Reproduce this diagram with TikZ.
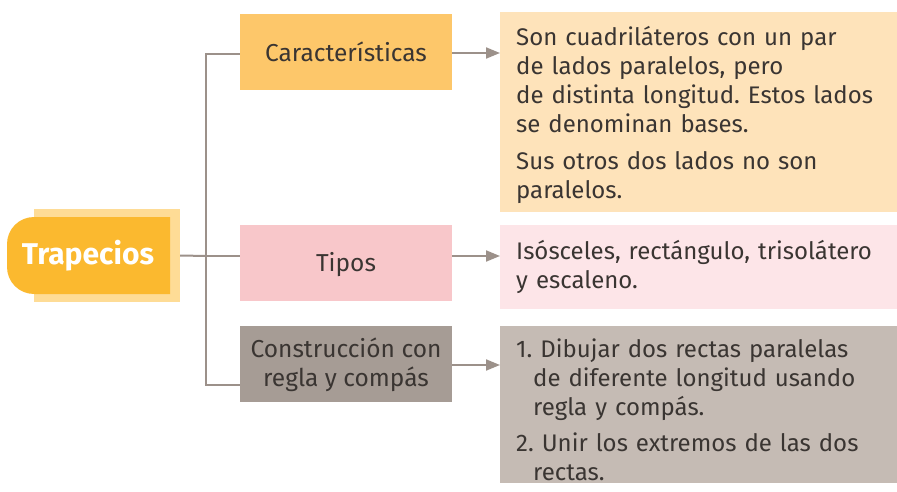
\documentclass[tikz,border=0pt]{standalone}
\usepackage{fontspec}
\setmainfont{Fira Sans}
\frenchspacing
\usetikzlibrary{calc,arrows.meta}

\definecolor{trapfront}{HTML}{FBB92F}
\definecolor{trapback}{HTML}{FEDC96}
\definecolor{carfill}{HTML}{FDC76A}
\definecolor{cardesc}{HTML}{FEE3BA}
\definecolor{tipfill}{HTML}{F8C7CA}
\definecolor{tipdesc}{HTML}{FDE5E8}
\definecolor{consfill}{HTML}{A69C95}
\definecolor{consdesc}{HTML}{C5BBB4}
\definecolor{linkgray}{HTML}{9C918A}
\definecolor{textgray}{HTML}{3A3532}

\tikzset{
	link/.style={draw=linkgray,line width=2pt},
	arrow/.style={link,-{Triangle[length=14pt,width=11pt]}},
	tema/.style={rectangle,minimum width=212pt,minimum height=76pt,inner sep=0pt,align=center,text=textgray,font=\fontsize{24.5}{29}\selectfont},
	texto/.style={rectangle,anchor=north west,text width=365pt,inner xsep=16pt,inner ysep=0pt,align=left,text=textgray,font=\fontsize{24}{29}\selectfont}
}

\begin{document}
\begin{tikzpicture}[x=1pt,y=-1pt]
	\useasboundingbox (0,0) rectangle (897,492);
	% tema central
	\node[rectangle,fill=trapback,minimum width=146pt,minimum height=93pt,inner sep=0pt] (trapback) at (107,255.5) {};
	\fill[trapfront] (170,217) [rounded corners=27pt] -- (7,217) -- (7,294) [sharp corners] -- (170,294) -- cycle;
	\node[text=white,font=\fontsize{30}{30}\selectfont\bfseries] (trap) at (88,256) {Trapecios};
	% temas
	\node[tema,fill=carfill] (car) at (346,52) {Características};
	\node[tema,fill=tipfill] (tip) at (346,263) {\rule{0pt}{22pt}Tipos};
	\node[tema,fill=consfill] (cons) at (346,364) {\rule{0pt}{22pt}Construcción con\\regla y compás};
	% textos
	\node[texto,fill=cardesc,minimum height=200pt] (cardesc) at (500,12) {\rule{0pt}{24pt}Son cuadriláteros con un par\\de lados paralelos, pero\\de distinta longitud. Estos lados\\se denominan bases.\\[8pt]Sus otros dos lados no son\\paralelos.};
	\node[texto,fill=tipdesc,minimum height=84pt] (tipdesc) at (500,225) {Isósceles, rectángulo, trisolátero\\y escaleno.};
	\node[rectangle,fill=consdesc,minimum width=397pt,minimum height=157pt,inner sep=0pt,anchor=north west] (consbox) at (500,326) {};
	\node[texto,anchor=west] (consdesc) at ([yshift=-5pt]consbox.west) {1. Dibujar dos rectas paralelas\\\hspace*{17pt}de diferente longitud usando\\\hspace*{17pt}regla y compás.\\[7pt]2. Unir los extremos de las dos\\\hspace*{17pt}rectas.};
	% conectores
	\coordinate (trunk) at (206,256);
	\draw[link] (trapback.east) -- (trunk);
	\draw[link] ([yshift=-2pt]car.west) -| (trunk) |- ([yshift=-21pt]cons.west);
	\draw[link] (trunk) -- (trunk -| tip.west);
	\draw[arrow] ([yshift=-1pt]car.east) -- ([yshift=-1pt]car.east -| cardesc.west);
	\draw[arrow] ([yshift=7pt]tip.east) -- ([yshift=7pt]tip.east -| tipdesc.west);
	\draw[arrow] ([yshift=-1pt]cons.east) -- ([yshift=-1pt]cons.east -| consbox.west);
\end{tikzpicture}
\end{document}
